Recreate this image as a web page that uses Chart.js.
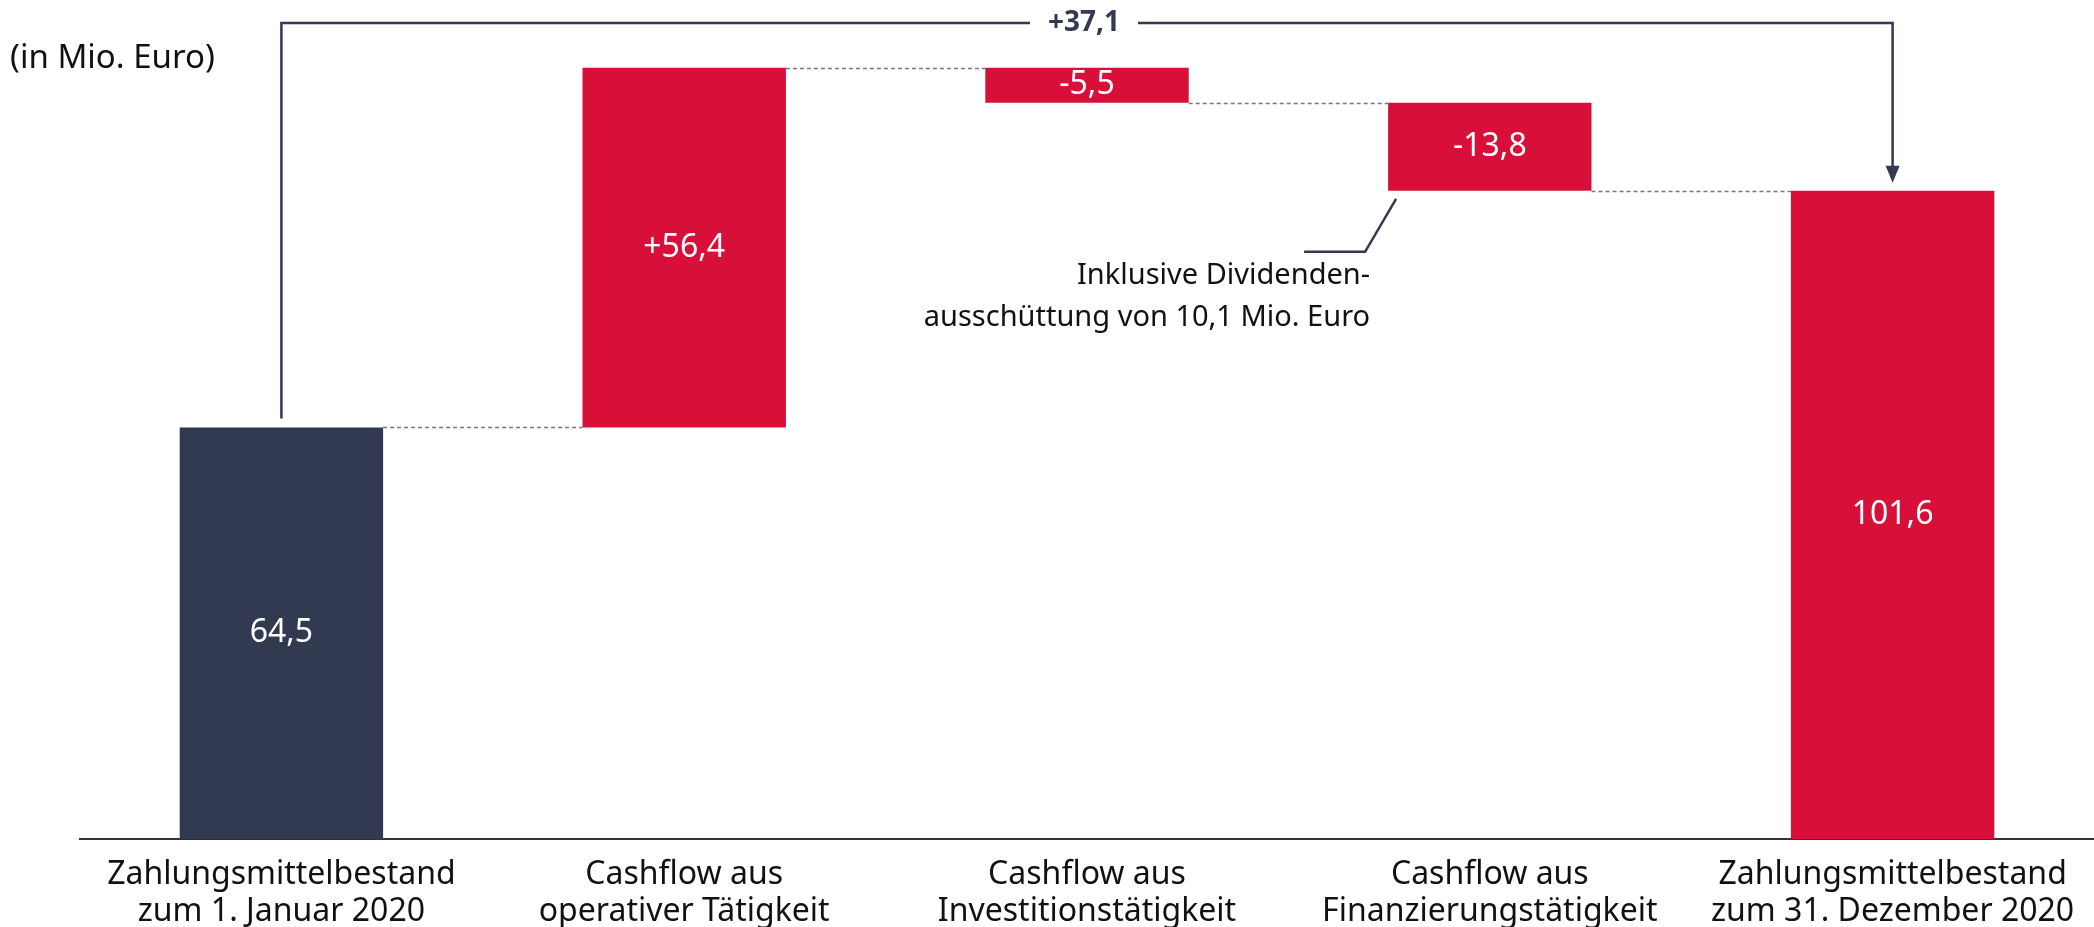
<!DOCTYPE html>
<html lang="de">
<head>
    <meta charset="UTF-8">
    <title>Zahlungsmittelbestand 2020</title>
    <script src="https://cdn.jsdelivr.net/npm/chart.js"></script>
    <style>
        body { margin: 0; background: #fff; }
        canvas { display: block; }
    </style>
</head>
<body>
    <canvas id="cashChart" width="2094" height="927"></canvas>
    <script>
        // chart data
        const categories = [
            ['Zahlungsmittelbestand', 'zum 1. Januar 2020'],
            ['Cashflow aus', 'operativer Tätigkeit'],
            ['Cashflow aus', 'Investitionstätigkeit'],
            ['Cashflow aus', 'Finanzierungstätigkeit'],
            ['Zahlungsmittelbestand', 'zum 31. Dezember 2020']
        ];
        const startValue = 64.5;
        const changes = [56.4, -5.5, -13.8];
        const endValue = 101.6;
        const valueLabels = ['64,5', '+56,4', '-5,5', '-13,8', '101,6'];
        const totalChangeLabel = '+37,1';
        const unitLabel = '(in Mio. Euro)';
        const noteLines = ['Inklusive Dividenden-', 'ausschüttung von 10,1 Mio. Euro'];
        const noteIndex = 3;

        const DARK = '#323a52';
        const RED = '#d81039';
        const FONT = '"Noto Sans", Lato, sans-serif';

        // floating bars from running totals
        const ranges = [[0, startValue]];
        let running = startValue;
        changes.forEach(c => {
            const next = running + c;
            ranges.push([Math.min(running, next), Math.max(running, next)]);
            running = next;
        });
        ranges.push([0, endValue]);
        // level where each bar hands over to the next one
        const levels = [startValue];
        running = startValue;
        changes.forEach(c => { running += c; levels.push(running); });

        const overlay = {
            id: 'overlay',
            afterDatasetsDraw(chart) {
                const ctx = chart.ctx;
                const y = chart.scales.y;
                const bars = chart.getDatasetMeta(0).data;
                ctx.save();

                // dashed connectors
                ctx.strokeStyle = '#777';
                ctx.lineWidth = 1.5;
                ctx.setLineDash([4, 3]);
                for (let i = 0; i < bars.length - 1; i++) {
                    const yy = Math.round(y.getPixelForValue(levels[i])) + 0.5;
                    ctx.beginPath();
                    ctx.moveTo(bars[i].x + bars[i].width / 2, yy);
                    ctx.lineTo(bars[i + 1].x - bars[i + 1].width / 2, yy);
                    ctx.stroke();
                }
                ctx.setLineDash([]);

                // values in bars
                ctx.fillStyle = '#fff';
                ctx.font = '32px ' + FONT;
                ctx.textAlign = 'center';
                ctx.textBaseline = 'middle';
                bars.forEach((b, i) => {
                    ctx.fillText(valueLabels[i], b.x, (b.y + b.base) / 2);
                });

                // bracket with total change
                const first = bars[0], last = bars[bars.length - 1];
                const topY = chart.chartArea.top + 23;
                ctx.font = 'bold 28px ' + FONT;
                const lw = ctx.measureText(totalChangeLabel).width;
                const mid = (first.x + last.x) / 2 - 3;
                ctx.strokeStyle = DARK;
                ctx.lineWidth = 2.5;
                ctx.beginPath();
                ctx.moveTo(first.x, first.y - 9);
                ctx.lineTo(first.x, topY);
                ctx.lineTo(mid - lw / 2 - 18, topY);
                ctx.moveTo(mid + lw / 2 + 18, topY);
                ctx.lineTo(last.x, topY);
                ctx.lineTo(last.x, last.y - 20);
                ctx.stroke();
                ctx.fillStyle = DARK;
                ctx.beginPath();
                ctx.moveTo(last.x - 7, last.y - 25);
                ctx.lineTo(last.x + 7, last.y - 25);
                ctx.lineTo(last.x, last.y - 8);
                ctx.closePath();
                ctx.fill();
                ctx.fillText(totalChangeLabel, mid, topY);

                // note for financing bar
                const nb = bars[noteIndex];
                const sx = nb.x - nb.width / 2 + 8;
                const sy = nb.base + 8;
                ctx.beginPath();
                ctx.moveTo(sx, sy);
                ctx.lineTo(sx - 31, sy + 53);
                ctx.lineTo(sx - 92, sy + 53);
                ctx.stroke();
                ctx.fillStyle = '#111';
                ctx.font = '29px ' + FONT;
                ctx.textAlign = 'right';
                ctx.fillText(noteLines[0], sx - 26, sy + 77);
                ctx.fillText(noteLines[1], sx - 26, sy + 119);

                // unit label
                ctx.textAlign = 'left';
                ctx.font = '33px ' + FONT;
                ctx.fillText(unitLabel, 10, 59);
                ctx.restore();
            }
        };

        new Chart(document.getElementById('cashChart'), {
            type: 'bar',
            data: {
                labels: categories,
                datasets: [{
                    data: ranges,
                    backgroundColor: ranges.map((r, i) => i === 0 ? DARK : RED),
                    borderSkipped: false,
                    categoryPercentage: 1,
                    barPercentage: 0.505
                }]
            },
            options: {
                responsive: false,
                devicePixelRatio: 1,
                animation: false,
                layout: { padding: { left: 80, right: 0, top: 0, bottom: 0 } },
                plugins: {
                    legend: { display: false },
                    tooltip: { enabled: false }
                },
                scales: {
                    x: {
                        grid: { display: false },
                        border: { display: true, color: '#333', width: 2 },
                        ticks: {
                            color: '#111',
                            padding: 9,
                            maxRotation: 0,
                            font: { family: FONT, size: 32, lineHeight: 1.16 }
                        },
                        afterFit(scale) { scale.height = 88; }
                    },
                    y: {
                        display: false,
                        min: 0,
                        max: 131.5
                    }
                }
            },
            plugins: [overlay]
        });
    </script>
</body>
</html>
